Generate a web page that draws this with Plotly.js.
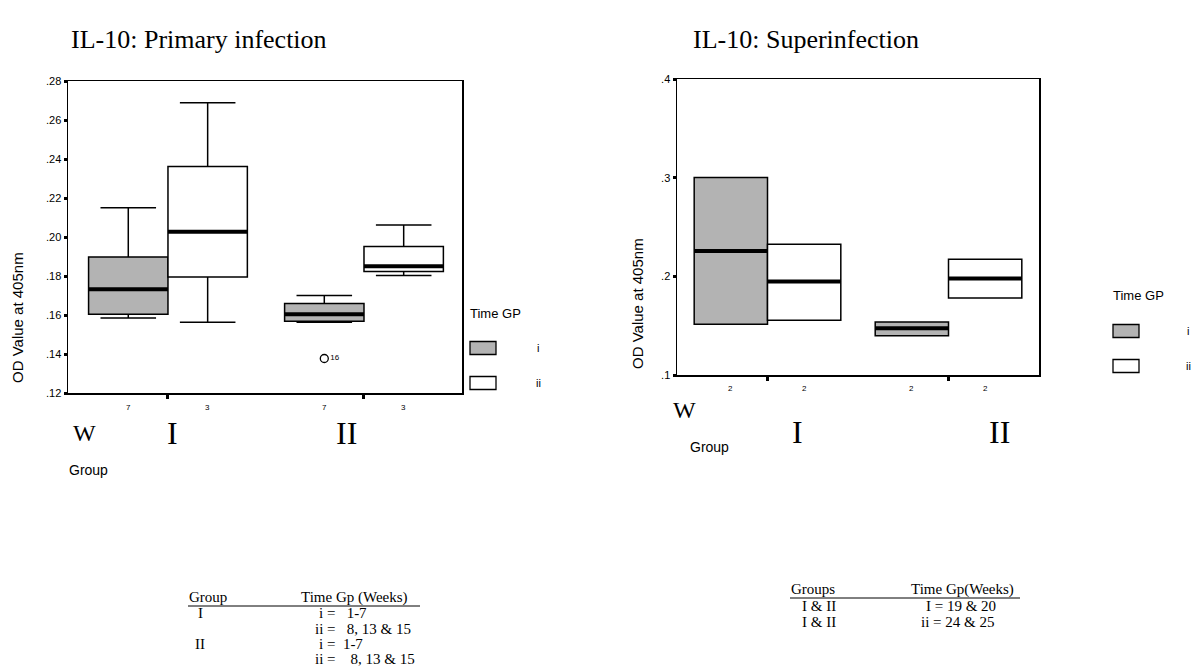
<!DOCTYPE html>
<html><head><meta charset="utf-8">
<script src="https://cdn.plot.ly/plotly-3.0.1.min.js"></script>
<style>html,body{margin:0;padding:0;background:#fff}#chart{width:1201px;height:666px}</style>
</head><body><div id="chart"></div>
<script>
// ---------- data ----------
const groups = ['I', 'II'];
const timeGroups = ['i', 'ii'];
// Primary infection (box statistics per time group, for groups I and II)
const primLowerFence_i = [0.1584, 0.1563];
const primQ1_i         = [0.1604, 0.1568];
const primMedian_i     = [0.1732, 0.1604];
const primQ3_i         = [0.1898, 0.1659];
const primUpperFence_i = [0.2150, 0.1700];
const primLowerFence_ii = [0.1563, 0.1802];
const primQ1_ii         = [0.1795, 0.1823];
const primMedian_ii     = [0.2027, 0.1850];
const primQ3_ii         = [0.2362, 0.1951];
const primUpperFence_ii = [0.2689, 0.2061];
const primN_i  = ['7', '7'];
const primN_ii = ['3', '3'];
const primOutlierGroup = 1;      // group II
const primOutlierTime = 0;       // time group i
const primOutlierValue = 0.1377;
const primOutlierLabel = '16';
// Superinfection (n = 2: box spans min..max)
const supQ1_i     = [0.1514, 0.1399];
const supMedian_i = [0.2258, 0.1474];
const supQ3_i     = [0.3002, 0.1538];
const supQ1_ii     = [0.1555, 0.1781];
const supMedian_ii = [0.1947, 0.1977];
const supQ3_ii     = [0.2326, 0.2174];
const supN_i  = ['2', '2'];
const supN_ii = ['2', '2'];
const primTicks = [0.12, 0.14, 0.16, 0.18, 0.20, 0.22, 0.24, 0.26, 0.28];
const supTicks = [0.1, 0.2, 0.3, 0.4];

// ---------- helpers ----------
const W = 1201, H = 666;
const px = x => x / W;
const py = y => 1 - y / H;
const BOXGAP = 0.19;
const BW = (1 - BOXGAP) / 2;          // width of one box in category units
const off = t => (t === 0 ? -1 : 1) * BW / 2;
const catX = groups.map((g, i) => i);
const fmt = v => v.toFixed(2).replace(/^0/, '');
const fmt1 = v => v.toFixed(1).replace(/^0/, '');
const GRAY = '#b3b3b3';
const SERIF = 'Liberation Serif, Times New Roman, serif';
const SANS = 'Liberation Sans, Arial, sans-serif';

function boxTrace(xa, ya, t, lf, q1, med, q3, uf, fill, name) {
  return {type: 'box', x: catX.map(c => c + off(t)), width: BW, xaxis: xa, yaxis: ya, name: name,
    lowerfence: lf, q1: q1, median: med, q3: q3, upperfence: uf,
    fillcolor: fill, line: {color: '#000', width: 1.5}, whiskerwidth: 0.7,
    boxpoints: false, showlegend: false, hoverinfo: 'skip'};
}
function medianTrace(xa, ya, med, t) {
  const xs = [], ys = [];
  med.forEach((m, i) => {
    const c = catX[i] + off(t);
    xs.push(c - BW / 2, c + BW / 2, null); ys.push(m, m, null);
  });
  return {type: 'scatter', mode: 'lines', x: xs, y: ys, xaxis: xa, yaxis: ya,
    line: {color: '#000', width: 4}, showlegend: false, hoverinfo: 'skip'};
}

const traces = [
  boxTrace('x', 'y', 0, primLowerFence_i, primQ1_i, primMedian_i, primQ3_i, primUpperFence_i, GRAY, 'i'),
  boxTrace('x', 'y', 1, primLowerFence_ii, primQ1_ii, primMedian_ii, primQ3_ii, primUpperFence_ii, '#fff', 'ii'),
  medianTrace('x', 'y', primMedian_i, 0),
  medianTrace('x', 'y', primMedian_ii, 1),
  {type: 'scatter', mode: 'markers+text', xaxis: 'x', yaxis: 'y',
    x: [catX[primOutlierGroup] + off(primOutlierTime)], y: [primOutlierValue],
    text: [primOutlierLabel], textposition: 'middle right',
    textfont: {family: SANS, size: 8, color: '#000'},
    marker: {symbol: 'circle-open', size: 8, color: '#000', line: {width: 1.3}},
    showlegend: false, hoverinfo: 'skip'},
  boxTrace('x2', 'y2', 0, supQ1_i, supQ1_i, supMedian_i, supQ3_i, supQ3_i, GRAY, 'i'),
  boxTrace('x2', 'y2', 1, supQ1_ii, supQ1_ii, supMedian_ii, supQ3_ii, supQ3_ii, '#fff', 'ii'),
  medianTrace('x2', 'y2', supMedian_i, 0),
  medianTrace('x2', 'y2', supMedian_ii, 1)
];

const axBase = {showline: true, mirror: true, linecolor: '#000', linewidth: 1.5,
  showgrid: false, zeroline: false, ticks: 'outside', tickcolor: '#000', fixedrange: true};
const xBase = Object.assign({}, axBase, {tickvals: [0, 1], ticktext: ['', ''], ticklen: 4, tickwidth: 3});
const yBase = Object.assign({}, axBase, {ticklen: 3, tickwidth: 3,
  tickfont: {family: SANS, size: 11, color: '#000'}});

const ann = [];
const shapes = [];
function txt(x, y, s, font, size, opts) {
  ann.push(Object.assign({xref: 'paper', yref: 'paper', x: px(x), y: py(y), text: s,
    showarrow: false, xanchor: 'left', yanchor: 'middle', borderpad: 0,
    font: {family: font, size: size, color: '#000'}}, opts || {}));
}
// titles
txt(70, 40, 'IL-10: Primary infection', SERIF, 26);
txt(692, 40, 'IL-10: Superinfection', SERIF, 26);
// y titles
txt(17, 318, 'OD Value at 405nm', SANS, 15, {textangle: -90, xanchor: 'center'});
txt(638, 304, 'OD Value at 405nm', SANS, 15, {textangle: -90, xanchor: 'center'});
// n labels
function nLabels(xref, nI, nII, yPix) {
  [nI, nII].forEach((arr, t) => arr.forEach((n, i) => {
    ann.push({xref: xref, yref: 'paper', x: catX[i] + off(t), y: py(yPix), text: n,
      showarrow: false, xanchor: 'center', yanchor: 'middle',
      font: {family: SANS, size: 8, color: '#000'}});
  }));
}
nLabels('x', primN_i, primN_ii, 407);
nLabels('x2', supN_i, supN_ii, 388);
// group labels
txt(72, 433, 'W', SERIF, 24);
txt(172, 433, groups[0], SERIF, 32, {xanchor: 'center'});
txt(346, 433, groups[1], SERIF, 32, {xanchor: 'center'});
txt(68, 470, 'Group', SANS, 14);
txt(672, 410, 'W', SERIF, 24);
txt(797, 432, groups[0], SERIF, 32, {xanchor: 'center'});
txt(1000, 432, groups[1], SERIF, 32, {xanchor: 'center'});
txt(689, 447, 'Group', SANS, 14);
// legends
function legend(x, yTitle, yI, yII, dx) {
  txt(x, yTitle, 'Time GP', SANS, 13);
  [[yI, GRAY, timeGroups[0]], [yII, '#fff', timeGroups[1]]].forEach(([yc, fill, lab]) => {
    shapes.push({type: 'rect', xref: 'paper', yref: 'paper', x0: px(x + 1), x1: px(x + 27),
      y0: py(yc - 6.5), y1: py(yc + 6.5), fillcolor: fill, line: {color: '#000', width: 1.3}});
    txt(x + dx, yc, lab, SANS, 11, {xanchor: 'center'});
  });
}
legend(469, 313, 348, 383, 69);
legend(1112, 295, 331, 366, 76);
// tables
const NB = '\u00a0';
const TF = 15;
txt(188, 597, 'Group', SERIF, TF);
txt(300, 597, 'Time Gp (Weeks)', SERIF, TF);
shapes.push({type: 'line', xref: 'paper', yref: 'paper', x0: px(188), x1: px(420), y0: py(606), y1: py(606), line: {color: '#000', width: 1}});
txt(197, 613, 'I', SERIF, TF);
txt(318, 613, 'i =' + NB + NB + ' 1-7', SERIF, TF);
txt(314, 628.5, 'ii =' + NB + NB + ' 8, 13 &amp; 15', SERIF, TF);
txt(194, 644, 'II', SERIF, TF);
txt(318, 644, 'i =' + NB + ' 1-7', SERIF, TF);
txt(314, 659, 'ii =' + NB + NB + NB + ' 8, 13 &amp; 15', SERIF, TF);
txt(790, 589, 'Groups', SERIF, TF);
txt(910, 589, 'Time Gp(Weeks)', SERIF, TF);
shapes.push({type: 'line', xref: 'paper', yref: 'paper', x0: px(790), x1: px(1020), y0: py(598), y1: py(598), line: {color: '#000', width: 1}});
txt(801, 606, 'I &amp; II', SERIF, TF);
txt(925, 606, 'I = 19 &amp; 20', SERIF, TF);
txt(801, 622, 'I &amp; II', SERIF, TF);
txt(920, 622, 'ii = 24 &amp; 25', SERIF, TF);

const layout = {
  width: W, height: H, margin: {l: 0, r: 0, t: 0, b: 0},
  paper_bgcolor: '#fff', plot_bgcolor: '#fff', showlegend: false,
  boxmode: 'overlay',
  xaxis: Object.assign({}, xBase, {domain: [px(68), px(462)], range: [-0.51, 1.5], anchor: 'y'}),
  yaxis: Object.assign({}, yBase, {domain: [py(393), py(81)], range: [primTicks[0], primTicks[primTicks.length - 1]],
    tickvals: primTicks, ticktext: primTicks.map(fmt), anchor: 'x'}),
  xaxis2: Object.assign({}, xBase, {domain: [px(677), px(1039)], range: [-0.5, 1.5], anchor: 'y2'}),
  yaxis2: Object.assign({}, yBase, {domain: [py(375), py(79)], range: [supTicks[0], supTicks[supTicks.length - 1]],
    tickvals: supTicks, ticktext: supTicks.map(fmt1), anchor: 'x2'}),
  annotations: ann, shapes: shapes
};
Plotly.newPlot('chart', traces, layout, {staticPlot: true, displayModeBar: false});
</script></body></html>
